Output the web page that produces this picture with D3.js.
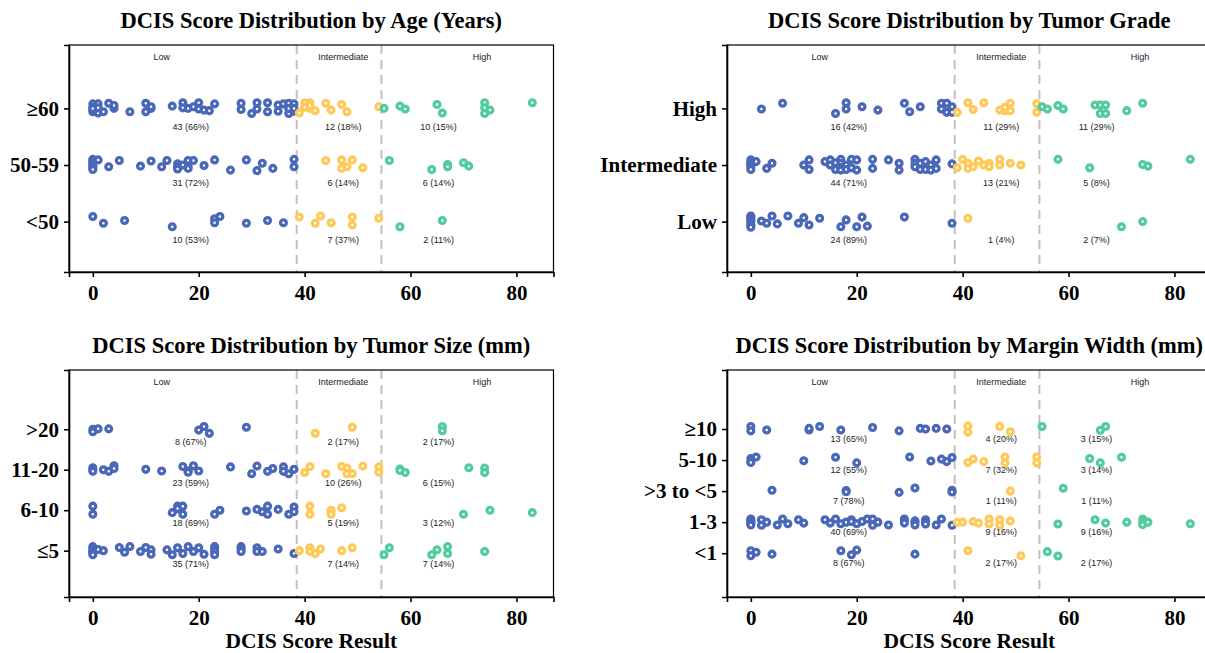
<!DOCTYPE html>
<html>
<head>
<meta charset="utf-8">
<script src="https://cdnjs.cloudflare.com/ajax/libs/d3/7.8.5/d3.min.js"></script>
<style>
  body { margin: 0; background: #fff; }
  svg { display: block; }
</style>
</head>
<body>
<svg id="chart" width="1205" height="653"></svg>
<script>
// axis / groups
const xTicks = [0, 20, 40, 60, 80];
const cutoffs = [38.5, 54.5];          // Low | Intermediate | High
const riskGroups = ['Low', 'Intermediate', 'High'];
const groupLabelScore = [13, 47.3, 73.5];
const countLabelScore = [18.5, 47.3, 65.3];

// each point: [DCIS score, vertical jitter]

// --- age ---
const ageCats = ['<50', '50-59', '≥60'];
const ageUnder50 = [
  [0,.09],[2,-.03],[6,.02],[15,-.09],[23,.05],[23,-.02],[24,.09],[29,-.03],[33,.02],[36,-.02],
  [39,.08],[42,-.03],[43,.1],[45,-.02],[49,.08],[49,-.06],[54,.06],
  [58,-.09],[66,.02]
];
const age50to59 = [
  [0,.1],[0,.07],[0,.04],[0,0],[0,-.02],[0,-.05],[0,-.08],[1,.09],[3,-.03],[5,.08],[9,-.02],[11,.07],
  [13,-.03],[14,.08],[16,.02],[16,-.04],[16,-.07],[17,0],[18,.08],[18,-.02],[18,-.06],[19,.08],[21,-.01],
  [23,.09],[26,-.09],[29,.09],[31,-.1],[32,.03],[34,-.06],[38,.1],[38,-.03],
  [44,.08],[47,.09],[47,-.06],[48,-.03],[49,.09],[51,-.05],
  [56,.08],[64,-.08],[67,.01],[67,-.03],[70,.04],[71,-.02]
];
const age60plus = [
  [0,.08],[0,-.06],[0,.02],[0,-.03],[0,0],[1,.08],[1,-.08],[1,.01],[2,-.06],[3,.09],[4,0],[4,.05],[7,-.06],
  [10,.09],[10,-.06],[11,0],[11,.03],[15,.04],[17,.1],[17,.01],[18,0],[19,.03],[20,.1],[20,-.01],[21,-.03],
  [22,-.04],[23,.08],[28,.09],[28,-.02],[30,-.09],[31,.1],[31,-.01],[33,.1],[33,-.06],[35,.06],[35,-.05],
  [36,.08],[37,.09],[37,-.09],[37,0],[38,.08],[38,-.05],[38,0],
  [39,-.08],[40,.1],[40,.02],[41,.1],[41,0],[41,.05],[42,-.04],[44,.09],[45,-.03],[47,.07],[48,-.06],[54,.03],
  [55,0],[58,.04],[59,-.01],[65,.07],[66,-.08],[74,.1],[74,.01],[74,-.09],[75,-.03],[83,.1]
];

// --- tumor grade ---
const gradeCats = ['Low', 'Intermediate', 'High'];
const gradeLow = [
  [0,.1],[0,.08],[0,.05],[0,.02],[0,0],[0,-.05],[0,-.07],[0,-.1],[2,.01],[3,-.03],[4,.1],[5,-.04],
  [7,.1],[9,-.03],[10,.07],[11,-.06],[13,.06],[17,-.09],[18,.03],[20,-.09],[21,.08],[22,-.08],[29,.08],[38,-.03],
  [41,.06],
  [70,-.09],[74,0]
];
const gradeIntermediate = [
  [0,.09],[0,.05],[0,.02],[0,0],[0,-.03],[0,-.08],[1,.06],[3,-.06],[4,.03],[10,0],[11,.09],[11,-.08],
  [14,.06],[15,.09],[15,0],[16,.04],[16,-.08],[17,.1],[17,.03],[17,-.04],[17,-.09],[18,0],[18,-.08],
  [19,.1],[19,-.05],[20,.09],[20,-.09],[23,.1],[23,-.06],[26,.09],[28,.03],[28,-.09],[31,.1],[31,.03],
  [31,-.03],[32,.03],[32,-.08],[33,.06],[33,-.08],[34,0],[34,-.09],[35,.09],[35,-.06],[38,.02],
  [39,-.05],[40,.1],[41,.03],[41,-.06],[42,-.03],[43,.07],[44,0],[45,.03],[45,-.03],[47,.1],[47,0],[49,.03],[51,0],
  [58,.1],[64,-.05],[74,.01],[75,-.02],[83,.1]
];
const gradeHigh = [
  [2,-.01],[6,.09],[16,-.09],[18,.1],[18,-.01],[21,.03],[24,-.03],[29,.09],[30,-.06],[32,.03],
  [36,.09],[36,-.01],[37,.09],[37,-.07],[38,.03],[38,-.07],
  [39,-.07],[41,.1],[42,-.02],[44,.1],[47,-.03],[48,-.04],[48,.02],[49,.09],[49,-.04],[54,.08],[54,-.07],
  [55,.03],[56,-.01],[58,.05],[59,-.01],[65,.06],[66,.06],[66,-.09],[67,.06],[67,-.09],[71,-.04],[74,.09]
];

// --- tumor size ---
const sizeCats = ['≤5', '6-10', '11-20', '>20'];
const size0to5 = [
  [0,.1],[0,.05],[0,0],[0,-.02],[0,-.06],[0,-.1],[1,.03],[2,0],[5,.08],[6,-.04],[7,.1],[9,-.02],[10,.08],
  [11,.02],[11,-.09],[14,.02],[15,-.1],[16,.07],[17,-.07],[18,.1],[19,-.02],[20,.07],[21,-.09],[23,.1],
  [23,.04],[23,-.02],[23,-.1],[28,.1],[28,.05],[28,-.02],[31,.07],[31,-.02],[32,-.02],[35,.04],[38,-.07],
  [39,0],[41,.07],[41,-.02],[42,-.07],[43,.04],[47,0],[49,.07],
  [55,-.1],[56,.07],[64,-.1],[65,.02],[67,.1],[67,-.07],[74,-.02]
];
const size6to10 = [
  [0,.1],[0,-.1],[15,-.06],[16,.1],[16,.04],[17,.1],[17,-.1],[23,-.1],[24,0],[29,-.02],[31,.02],[32,-.04],
  [33,.1],[33,-.1],[35,.02],[37,-.1],[38,.08],[38,-.04],
  [41,.1],[41,-.1],[45,0],[45,-.1],[47,.06],
  [70,-.1],[75,0],[83,-.06]
];
const size11to20 = [
  [0,.05],[0,0],[0,-.04],[2,0],[3,-.04],[4,.1],[4,.03],[10,.01],[13,-.03],[17,.08],[18,-.03],[18,-.06],
  [19,.1],[20,-.03],[26,.07],[30,-.1],[31,.09],[33,-.04],[34,.03],[36,.07],[36,-.04],[37,-.1],[38,.01],
  [40,-.07],[41,.08],[44,-.1],[47,.08],[48,.04],[48,-.1],[49,-.1],[51,.09],[54,.07],[54,-.06],
  [58,.02],[58,-.02],[59,-.07],[71,.05],[74,.04],[74,-.07]
];
const sizeOver20 = [
  [0,0],[0,-.06],[1,.01],[3,.01],[20,-.02],[21,.07],[22,-.1],[29,.05],
  [42,-.1],[49,.05],
  [66,.07],[66,-.04]
];

// --- margin width ---
const marginCats = ['<1', '1-3', '>3 to <5', '5-10', '≥10'];
const marginUnder1 = [
  [0,.08],[0,-.08],[1,.03],[4,-.03],[17,.08],[19,-.05],[20,.1],[31,-.03],
  [41,.08],[51,-.08],
  [56,.05],[58,-.09]
];
const margin1to3 = [
  [0,.1],[0,.05],[0,.03],[0,0],[0,-.05],[0,-.09],[2,.08],[2,-.1],[3,0],[5,-.09],[6,.1],[7,-.05],[9,.08],
  [10,-.03],[14,.08],[15,-.03],[16,.1],[17,-.05],[18,0],[19,.08],[19,.02],[20,-.05],[21,.02],[22,.1],
  [23,.1],[23,-.1],[24,0],[26,-.09],[29,.1],[29,.05],[29,-.03],[31,.04],[31,0],[31,-.09],[33,.08],[33,0],
  [33,-.06],[35,-.09],[36,.1],[38,-.1],
  [39,0],[40,0],[42,.02],[43,-.03],[45,.1],[45,-.06],[47,.08],[47,-.1],[49,.04],
  [58,-.06],[65,.08],[67,-.03],[71,0],[74,.1],[74,.02],[74,-.08],[75,0],[83,-.05]
];
const margin3to5 = [
  [4,.03],[18,.02],[18,-.02],[28,-.04],[31,.1],[38,.03],[38,-.03],
  [49,0],
  [59,.09]
];
const margin5to10 = [
  [0,.05],[0,-.05],[0,-.08],[1,.1],[10,-.02],[16,.09],[20,-.09],[30,.1],[34,-.03],[36,.03],[37,-.05],[38,.08],
  [41,-.08],[42,.03],[44,-.05],[48,.1],[48,-.09],[54,.1],[54,-.09],
  [64,.05],[66,-.09],[70,.09]
];
const margin10plus = [
  [0,.08],[0,-.06],[3,-.03],[11,-.03],[11,.02],[13,.08],[17,-.03],[23,.05],[28,-.06],[32,.02],[33,0],[35,.02],[37,0],
  [41,.1],[41,-.1],[47,.08],[49,-.09],
  [55,.08],[66,-.04],[67,.08]
];

const groupColors = ['#4a67b8', '#ffc95a', '#52cc9c'];

const panels = [
  { title: 'DCIS Score Distribution by Age (Years)', cats: ageCats,
    rows: [ageUnder50, age50to59, age60plus],
    left: 69, top: 45, yDomain: [0.11, 4.12], xTitle: false },
  { title: 'DCIS Score Distribution by Tumor Grade', cats: gradeCats,
    rows: [gradeLow, gradeIntermediate, gradeHigh],
    left: 727, top: 45, yDomain: [0.11, 4.12], xTitle: false },
  { title: 'DCIS Score Distribution by Tumor Size (mm)', cats: sizeCats,
    rows: [size0to5, size6to10, size11to20, sizeOver20],
    left: 69, top: 370, yDomain: [-0.145, 5.465], xTitle: true },
  { title: 'DCIS Score Distribution by Margin Width (mm)', cats: marginCats,
    rows: [marginUnder1, margin1to3, margin3to5, margin5to10, margin10plus],
    left: 727, top: 370, yDomain: [-0.41, 6.9], xTitle: true }
];

const W = 484.5, H = 227;
const svg = d3.select('#chart');
const serif = '"Liberation Serif", "Times New Roman", serif';
const sans = '"Liberation Sans", Arial, sans-serif';

function groupOf(score) {
  return score < cutoffs[0] ? 0 : (score < cutoffs[1] ? 1 : 2);
}

panels.forEach(p => {
  const x = d3.scaleLinear().domain([-4.5, 87]).range([p.left, p.left + W]);
  const y = d3.scaleLinear().domain(p.yDomain).range([p.top + H, p.top]);
  const g = svg.append('g');

  // dashed cut-off lines
  g.selectAll('line.cut')
    .data(cutoffs)
    .join('line')
    .attr('x1', d => x(d)).attr('x2', d => x(d))
    .attr('y1', p.top).attr('y2', p.top + H)
    .attr('stroke', '#c4c0c0')
    .attr('stroke-width', 2)
    .attr('stroke-dasharray', '9,6');

  // group headers
  g.selectAll('text.grp')
    .data(riskGroups)
    .join('text')
    .attr('x', (d, i) => x(groupLabelScore[i]))
    .attr('y', p.top + 15)
    .attr('text-anchor', 'middle')
    .attr('font-family', sans)
    .attr('font-size', 9)
    .attr('fill', '#222')
    .text(d => d);

  // points
  p.rows.forEach((row, ri) => {
    g.append('g')
      .selectAll('circle')
      .data(row)
      .join('circle')
      .attr('cx', d => x(d[0]))
      .attr('cy', d => y(ri + 1 + d[1]))
      .attr('r', 2.9)
      .attr('fill', '#fff')
      .attr('stroke', d => groupColors[groupOf(d[0])])
      .attr('stroke-width', 3.3);

    // counts per group
    const counts = [0, 0, 0];
    row.forEach(d => counts[groupOf(d[0])]++);
    g.append('g')
      .selectAll('text')
      .data(counts)
      .join('text')
      .attr('x', (d, i) => x(countLabelScore[i]))
      .attr('y', y(ri + 1 - 0.32))
      .attr('dy', '0.35em')
      .attr('text-anchor', 'middle')
      .attr('font-family', sans)
      .attr('font-size', 9)
      .attr('fill', '#222')
      .text(d => `${d} (${Math.round(d / row.length * 100)}%)`);
  });

  // frame
  g.append('rect')
    .attr('x', p.left).attr('y', p.top)
    .attr('width', W).attr('height', H)
    .attr('fill', 'none')
    .attr('stroke', '#000')
    .attr('stroke-width', 1.2);

  // axes
  const xAxis = g.append('g')
    .attr('transform', `translate(0,${p.top + H})`)
    .call(d3.axisBottom(x).tickValues(xTicks).tickSize(5).tickPadding(8));
  const yAxis = g.append('g')
    .attr('transform', `translate(${p.left},0)`)
    .call(d3.axisLeft(y).tickValues(p.cats.map((c, i) => i + 1))
      .tickFormat(d => p.cats[d - 1]).tickSize(5).tickPadding(5));

  [xAxis, yAxis].forEach(a => {
    a.select('.domain').attr('stroke', '#000').attr('stroke-width', 1.6);
    a.selectAll('.tick line').attr('stroke', '#000').attr('stroke-width', 1.6);
    a.selectAll('.tick text')
      .attr('fill', '#000')
      .attr('font-family', serif)
      .attr('font-weight', 'bold')
      .attr('font-size', 21);
  });

  // title
  g.append('text')
    .attr('x', p.left + W / 2)
    .attr('y', p.top - 17)
    .attr('text-anchor', 'middle')
    .attr('font-family', serif)
    .attr('font-weight', 'bold')
    .attr('font-size', 22.5)
    .text(p.title);

  if (p.xTitle) {
    g.append('text')
      .attr('x', p.left + W / 2)
      .attr('y', p.top + H + 51.3)
      .attr('text-anchor', 'middle')
      .attr('font-family', serif)
      .attr('font-weight', 'bold')
      .attr('font-size', 21.5)
      .text('DCIS Score Result');
  }
});
</script>
</body>
</html>
